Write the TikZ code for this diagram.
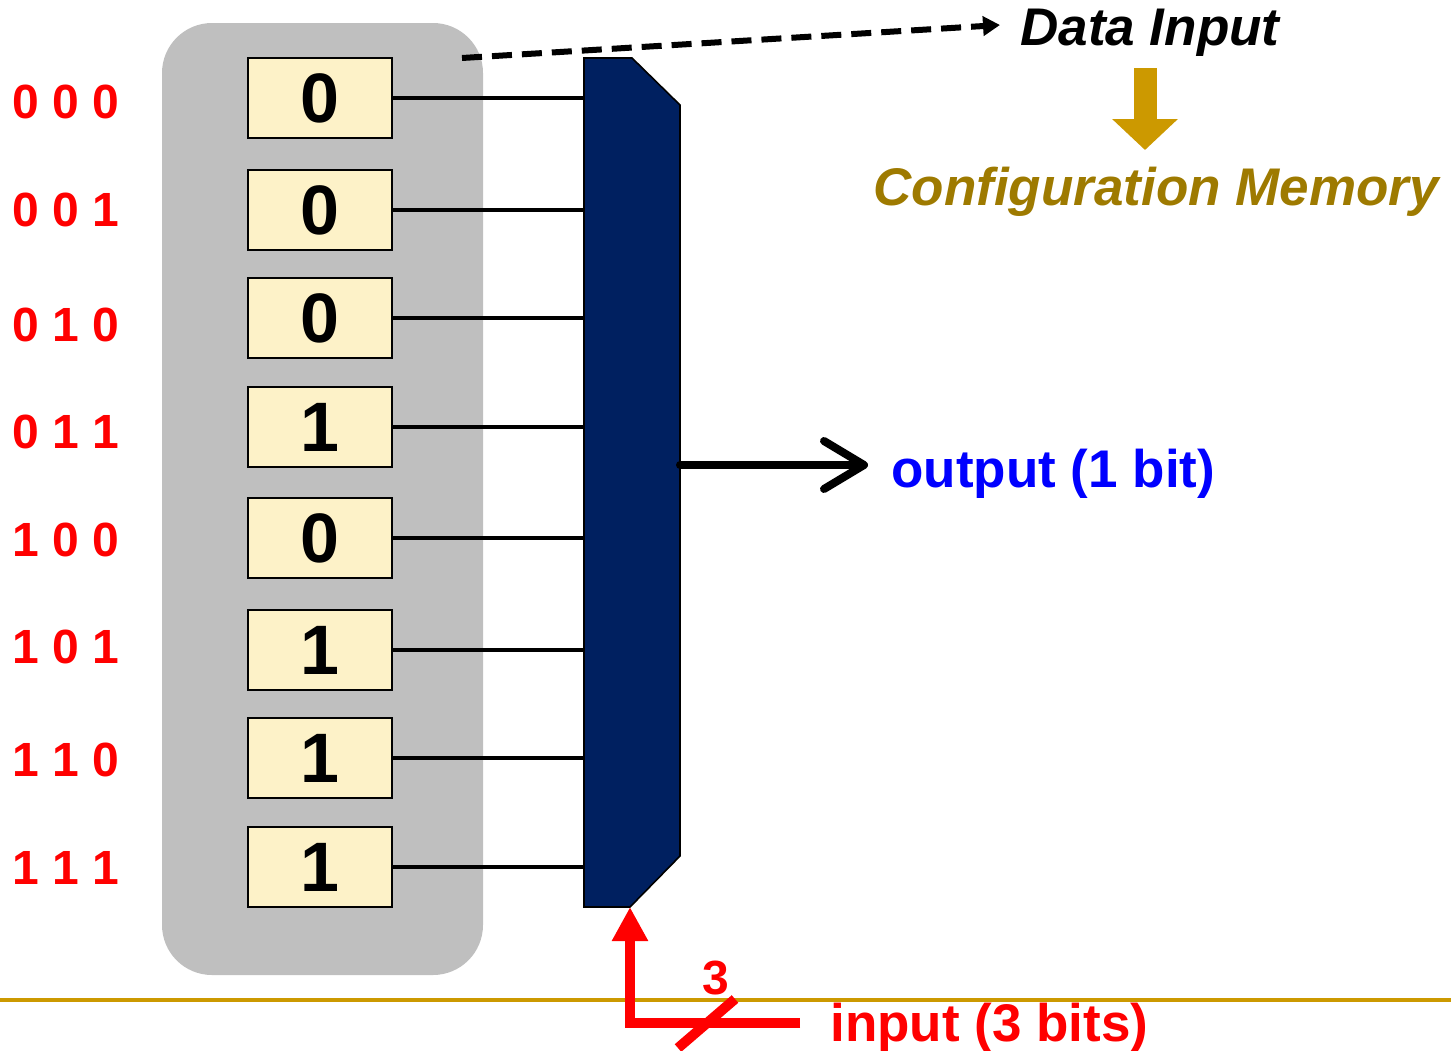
\documentclass[tikz,border=0pt]{standalone}
\usepackage{fontspec}
\setmainfont{Liberation Sans}
\usetikzlibrary{arrows.meta,calc}
\definecolor{gray1}{RGB}{191,191,191}
\definecolor{cellfill}{RGB}{253,242,200}
\definecolor{navy1}{RGB}{0,32,96}
\definecolor{gold1}{RGB}{204,153,0}
\definecolor{gold2}{RGB}{158,122,0}
\tikzset{
  bitcell/.style={draw,fill=cellfill,line width=0.8pt,minimum width=72pt,minimum height=40pt,inner sep=0pt,font=\fontsize{35}{40}\selectfont\bfseries},
  addr/.style={anchor=base east,inner sep=0pt,text=red,font=\fontsize{24}{28}\selectfont\bfseries},
  bigtxt/.style={anchor=base west,inner sep=0pt,font=\fontsize{26.5}{30}\selectfont\bfseries},
}
\begin{document}
\begin{tikzpicture}[x=0.5pt,y=-0.5pt]
    \useasboundingbox (0,0) rectangle (1451,1050);

    \fill[gray1,rounded corners=25pt] (162,23) rectangle (483,975);
    \coordinate (mA) at (584,58);
    \coordinate (mB) at (630,907);
    \coordinate (mO) at (680,465);

    \foreach \yb/\yl/\bit/\lab [count=\i] in {98/118/0/0 0 0, 210/226/0/0 0 1, 318/341/0/0 1 0, 427/448/1/0 1 1, 538/556/0/1 0 0, 650/663/1/1 0 1, 758/776/1/1 1 0, 867/884/1/1 1 1}{
      \node[bitcell] (c\i) at (320,\yb) {\bit};
      \node[addr] (a\i) at (120,\yl) {\lab};
      \draw[line width=2.3pt] (c\i.east) -- (c\i.east -| mA);
    }

    \draw[fill=navy1,line width=0.8pt] (mA) --++ (48,0) --++ (48,47) -- (680,856) -- (mB) -- (mB -| mA) -- cycle;

    \node[bigtxt,text=blue] (out) at (891,487) {output (1 bit)};
    \draw[line width=4pt,line cap=round,-{Straight Barb[length=20pt,width=24pt,round]}] (mO) -- (mO -| 868,0);

    \node[bigtxt,font=\fontsize{26.5}{30}\selectfont\bfseries\itshape] (din) at (1020,45) {Data Input};
    \node[bigtxt,text=gold2,font=\fontsize{26.5}{30}\selectfont\bfseries\itshape] (cfg) at (873,205) {Configuration Memory};
    \coordinate (dS) at (462,58);
    \draw[line width=3pt,dash pattern=on 10pt off 5pt,-{Triangle[length=8.5pt,width=9.5pt]}] (dS) -- (1000,25);
    \draw[gold1,line width=11.5pt,-{Triangle[length=15.5pt,width=32pt]}] (1145,68) -- (1145,150);

    \draw[gold1,line width=1.6pt] (0,1000) -- (1451,1000);

    \node[bigtxt,text=red] (inp) at (830,1041) {input (3 bits)};
    \coordinate (iA) at (800,1023);
    \draw[red,line width=5pt,-{Triangle[length=17pt,width=17pt]}] (iA) -| (mB);
    \draw[red,line width=5pt] (678,1048) -- (735,999);
    \node[text=red,inner sep=0pt,font=\fontsize{24}{28}\selectfont\bfseries] (n3) at (716,978) {3};

\end{tikzpicture}
\end{document}
